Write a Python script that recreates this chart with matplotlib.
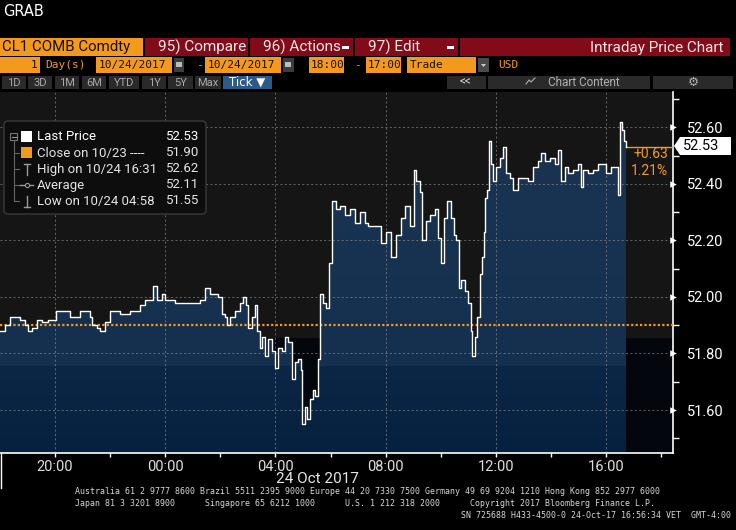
import pandas as pd
import matplotlib
matplotlib.use("Agg")
import matplotlib.pyplot as plt
import matplotlib.dates as mdates
from matplotlib.patches import Rectangle, FancyBboxPatch, Polygon
from matplotlib.colors import LinearSegmentedColormap
from matplotlib.ticker import FixedLocator
import numpy as np

# ---- data (CL1 tick data, 23-24 Oct 2017) ----
times = ["18:00", "18:11", "18:22", "18:33", "18:44", "18:54", "19:01", "19:10", "19:21", "19:31",
         "19:45", "19:55", "20:02", "20:11", "20:22", "20:32", "20:43", "20:54", "21:05", "21:16",
         "21:20", "21:31", "21:38", "21:49", "22:00", "22:10", "22:21", "22:32", "22:43", "22:54",
         "23:05", "23:16", "23:27", "23:33", "23:42", "23:53", "23:59", "00:10", "00:21", "00:32",
         "00:43", "00:54", "01:05", "01:16", "01:27", "01:37", "01:48", "01:55", "02:03", "02:10",
         "02:14", "02:21", "02:32", "02:43", "02:49", "02:56", "03:00", "03:09", "03:15", "03:20",
         "03:26", "03:31", "03:37", "03:44", "03:52", "03:59", "04:05", "04:14", "04:21", "04:27",
         "04:36", "04:43", "04:49", "04:56", "04:58", "05:04", "05:09", "05:15", "05:22", "05:26",
         "05:33", "05:37", "05:44", "05:50", "05:57", "06:03", "06:12", "06:21", "06:31", "06:42",
         "06:53", "07:04", "07:15", "07:21", "07:37", "07:50", "08:01", "08:12", "08:22", "08:33",
         "08:42", "08:53", "09:02", "09:06", "09:15", "09:19", "09:28", "09:37", "09:47", "09:54",
         "10:01", "10:07", "10:14", "10:22", "10:29", "10:33", "10:40", "10:44", "10:53", "10:59",
         "11:06", "11:08", "11:15", "11:19", "11:25", "11:30", "11:34", "11:36", "11:41", "11:45",
         "11:49", "11:54", "12:00", "12:09", "12:16", "12:22", "12:31", "12:37", "12:48", "12:59",
         "13:10", "13:21", "13:32", "13:38", "13:47", "13:58", "14:09", "14:15", "14:22", "14:31",
         "14:37", "14:48", "14:59", "15:05", "15:10", "15:21", "15:32", "15:42", "15:53", "16:00",
         "16:11", "16:22", "16:26", "16:30", "16:31", "16:35", "16:39", "16:44"]
prices = [51.88, 51.90, 51.93, 51.93, 51.92, 51.90, 51.88, 51.89, 51.92, 51.91,
          51.92, 51.92, 51.95, 51.95, 51.95, 51.93, 51.93, 51.95, 51.95, 51.93,
          51.90, 51.89, 51.88, 51.91, 51.95, 51.95, 51.94, 51.94, 51.95, 51.95,
          51.97, 51.99, 51.99, 52.04, 51.99, 52.01, 51.99, 51.99, 51.98, 51.98,
          51.98, 51.98, 51.98, 51.99, 52.03, 52.01, 52.01, 52.00, 51.94, 51.93,
          51.90, 51.93, 51.95, 51.98, 52.00, 51.97, 51.89, 51.93, 51.97, 51.88,
          51.82, 51.86, 51.79, 51.85, 51.81, 51.75, 51.82, 51.81, 51.86, 51.84,
          51.71, 51.77, 51.78, 51.74, 51.55, 51.61, 51.57, 51.64, 51.67, 51.65,
          51.78, 52.01, 51.98, 51.96, 52.12, 52.34, 52.31, 52.32, 52.29, 52.31,
          52.26, 52.30, 52.26, 52.25, 52.25, 52.19, 52.23, 52.14, 52.22, 52.28,
          52.32, 52.25, 52.45, 52.41, 52.37, 52.20, 52.27, 52.29, 52.31, 52.21,
          52.12, 52.28, 52.34, 52.28, 52.22, 52.20, 52.03, 52.06, 52.02, 51.98,
          51.88, 51.79, 51.86, 51.93, 52.08, 52.14, 52.23, 52.35, 52.38, 52.55,
          52.47, 52.41, 52.46, 52.49, 52.53, 52.44, 52.42, 52.38, 52.42, 52.42,
          52.41, 52.46, 52.48, 52.51, 52.48, 52.49, 52.47, 52.52, 52.41, 52.46,
          52.44, 52.45, 52.47, 52.39, 52.45, 52.44, 52.45, 52.47, 52.47, 52.44,
          52.46, 52.46, 52.36, 52.53, 52.62, 52.59, 52.55, 52.53]

prev_close = 51.90
last_price = 52.53
legend_rows = ["Last Price", "Close on 10/23 ----", "High on 10/24 16:31", "Average", "Low on 10/24 04:58"]
legend_vals = ["52.53", "51.90", "52.62", "52.11", "51.55"]
change_txt = ["+0.63", "1.21%"]
y_ticks = [51.60, 51.80, 52.00, 52.20, 52.40, 52.60]
y_minor = [51.50, 51.70, 51.90, 52.10, 52.30, 52.50, 52.70]

footer = ["Australia 61 2 9777 8600 Brazil 5511 2395 9000 Europe 44 20 7330 7500 Germany 49 69 9204 1210 Hong Kong 852 2977 6000",
          "Japan 81 3 3201 8900      Singapore 65 6212 1000      U.S. 1 212 318 2000      Copyright 2017 Bloomberg Finance L.P.",
          "SN 725688 H433-4500-0 24-Oct-17 16:56:34 VET  GMT-4:00"]

ts = pd.to_datetime([("2017-10-23 " if int(t[:2]) >= 18 else "2017-10-24 ") + t for t in times])
x = mdates.date2num(ts)

plt.rcParams['font.family'] = ['Roboto', 'DejaVu Sans']
ORANGE = '#f39a1e'
RED = '#820b19'

W, H = 736, 530
fig = plt.figure(figsize=(W / 100, H / 100), dpi=100, facecolor='black')

# ---- screen chrome in pixel coordinates ----
ui = fig.add_axes([0, 0, 1, 1], zorder=0)
ui.set_xlim(0, W)
ui.set_ylim(H, 0)
ui.axis('off')
ui.add_patch(Rectangle((0, 0), W, H, facecolor='black', edgecolor='none'))


def box(a, x0, y0, w, h, c):
    a.add_patch(Rectangle((x0, y0), w, h, facecolor=c, edgecolor='none'))


def txt(a, x0, y0, s, c='white', size=10, ha='left', **kw):
    a.text(x0, y0, s, color=c, fontsize=size, ha=ha, va='center', **kw)


txt(ui, 3, 11, "GRAB", size=10.5, family='DejaVu Sans')

# row 1
box(ui, 0, 38, 143, 18, ORANGE)
txt(ui, 2, 47.5, "CL1 COMB Comdty", c='#1a0e00', size=10.8)
for x0, w, s in [(145, 103, "95) Compare"), (250, 103, "96) Actions"), (355, 103, "97) Edit")]:
    box(ui, x0, 38, w, 18, RED)
    txt(ui, x0 + 13, 47.5, s, c='#f2e6e6', size=11)
box(ui, 342, 46, 7, 3, 'white')
box(ui, 447, 46, 7, 3, 'white')
box(ui, 460, 38, 270, 18, RED)
txt(ui, 723, 48, "Intraday Price Chart", c='#f2e6e6', size=11, ha='right')

# row 2
mono = 'DejaVu Sans Mono'
fs2 = 8
box(ui, 0, 57, 40, 16, ORANGE)
txt(ui, 37, 65, "1", c='#1a0e00', size=fs2, ha='right', family=mono)
txt(ui, 45, 65, "Day(s)", c=ORANGE, size=fs2, family=mono)
box(ui, 96, 57, 76, 16, ORANGE)
txt(ui, 99, 65, "10/24/2017", c='#1a0e00', size=fs2, family=mono)
box(ui, 174, 58, 10, 14, '#3c3c3c')
box(ui, 176, 62, 6, 5, '#bbbbbb')
txt(ui, 196, 65, "-", c=ORANGE, size=fs2, family=mono)
box(ui, 205, 57, 76, 16, ORANGE)
txt(ui, 208, 65, "10/24/2017", c='#1a0e00', size=fs2, family=mono)
box(ui, 283, 58, 11, 14, '#3c3c3c')
box(ui, 285, 62, 6, 5, '#bbbbbb')
box(ui, 309, 57, 35, 16, ORANGE)
txt(ui, 311, 65, "18:00", c='#1a0e00', size=fs2, family=mono)
txt(ui, 354, 65, "-", c=ORANGE, size=fs2, family=mono)
box(ui, 366, 57, 35, 16, ORANGE)
txt(ui, 368, 65, "17:00", c='#1a0e00', size=fs2, family=mono)
box(ui, 407, 57, 69, 16, ORANGE)
txt(ui, 410, 65, "Trade", c='#1a0e00', size=fs2, family=mono)
box(ui, 478, 58, 11, 14, '#4a4a4a')
ui.add_patch(Polygon([[481, 64], [486, 64], [483.5, 67]], facecolor='#cccccc'))
txt(ui, 498, 65, "USD", c=ORANGE, size=fs2, family=mono)

# row 3
for x0, w, s in [(2, 24, "1D"), (28, 24, "3D"), (55, 24, "1M"), (82, 24, "6M"), (109, 30, "YTD"),
                 (142, 24, "1Y"), (168, 25, "5Y"), (195, 26, "Max")]:
    box(ui, x0, 76, w, 13, '#2a2a2a')
    txt(ui, x0 + w / 2, 82.5, s, c='#a8a8a8', size=8, ha='center')
box(ui, 223, 76, 49, 13, '#2c5a8a')
txt(ui, 247, 82.5, "Tick \u25bc", c='white', size=8.5, ha='center', family='DejaVu Sans')
box(ui, 447, 76, 39, 13, '#2a2a2a')
txt(ui, 466, 82, "<<", c='#cfcfcf', size=8.5, ha='center')
box(ui, 488, 76, 162, 13, '#2a2a2a')
txt(ui, 584, 82.5, "Chart Content", c='#b0b0b0', size=8.5, ha='center')
ui.plot([526, 529, 531, 535], [84, 80, 82, 78], color='#b0b0b0', lw=0.8)
box(ui, 653, 76, 80, 13, '#2a2a2a')
txt(ui, 693, 82.5, "\u2699", c='#b0b0b0', size=9, ha='center', family='DejaVu Sans')

# bottom: date and footer
ui.plot([0.5, 0.5], [453, 488], color='white', lw=1)
txt(ui, 317, 479, "24 Oct 2017", c='#e6e6e6', size=11, ha='center')
for i, line in enumerate(footer[:2]):
    txt(ui, 75, 491 + 12.5 * i, line, c='#d8d8d8', size=5.98, family=mono)
txt(ui, 731, 516, footer[2], c='#d8d8d8', size=5.98, ha='right', family=mono)

# ---- price chart ----
ax = fig.add_axes([0, 1 - 453 / H, 673 / W, (453 - 92) / H], zorder=1)
x_lo = mdates.date2num(pd.Timestamp("2017-10-23 18:00"))
x_hi = mdates.date2num(pd.Timestamp("2017-10-24 18:26"))
y_lo, y_hi = 51.448, 52.725
ax.set_xlim(x_lo, x_hi)
ax.set_ylim(y_lo, y_hi)
ax.set_facecolor('#151515')
ax.axhspan(y_lo, 51.855, color='#03060c', zorder=0, lw=0)

# blue gradient area under the price, with the darker band at the bottom
cmap = LinearSegmentedColormap.from_list('bbg', [
    (0.0, '#06203f'), (0.238, '#0c2647'), (0.2381, '#15304f'), (1.0, '#1b3453')])
grad = np.linspace(0, 1, 400).reshape(-1, 1)
im = ax.imshow(grad, extent=[x_lo, x_hi, y_lo, y_hi], origin='lower', aspect='auto',
               cmap=cmap, zorder=1, interpolation='nearest')
area = ax.fill_between(x, prices, y_lo, facecolor='none', lw=0, step='post')
im.set_clip_path(area.get_paths()[0], transform=ax.transData)

for yt in y_ticks:
    ax.axhline(yt, color='#8a8a8a', lw=0.7, dashes=(2, 2.5), alpha=0.7, zorder=2)
hours = mdates.date2num(pd.date_range("2017-10-23 20:00", "2017-10-24 16:00", freq="4h"))
for xv in hours:
    ax.axvline(xv, color='#8a8a8a', lw=0.7, dashes=(2, 2.5), alpha=0.7, zorder=2)

ax.axhline(prev_close, color=ORANGE, lw=1.6, dashes=(1, 1), zorder=3)
ax.plot([x[-1], x_hi], [last_price, last_price], color=ORANGE, lw=1, zorder=3)
ax.plot(x, prices, color='white', lw=1, zorder=4, drawstyle='steps-post')

ax.set_xticks(hours)
ax.xaxis.set_major_formatter(mdates.DateFormatter('%H:%M'))
ax.xaxis.set_minor_locator(FixedLocator(hours + 2 / 24))
ax.tick_params(axis='x', which='both', colors='white', length=3, width=1, direction='out',
               labelcolor='#dedede', labelsize=10.5, pad=2)

ax.yaxis.tick_right()
ax.set_yticks(y_ticks)
ax.set_yticklabels([f"{v:.2f}" for v in y_ticks])
ax.yaxis.set_minor_locator(FixedLocator(y_minor))
ax.tick_params(axis='y', which='major', colors='white', length=0, pad=10, labelsize=10.5)
ax.tick_params(axis='y', which='minor', colors='white', length=4, width=1, direction='out')
ax.scatter([1.0] * len(y_ticks), y_ticks, marker='>', s=22, color='white', clip_on=False, zorder=5,
           transform=ax.get_yaxis_transform(), linewidths=0)

for side in ['top', 'left']:
    ax.spines[side].set_visible(False)
for side in ['bottom', 'right']:
    ax.spines[side].set_color('white')
    ax.spines[side].set_linewidth(1.2)

# ---- overlays: legend box and last-price tag ----
top = fig.add_axes([0, 0, 1, 1], zorder=2)
top.set_xlim(0, W)
top.set_ylim(H, 0)
top.axis('off')
top.patch.set_visible(False)

top.add_patch(FancyBboxPatch((4, 121), 202, 93, boxstyle="round,pad=0,rounding_size=4",
                             facecolor='#0d0d0d', edgecolor='#3a3a3a', lw=1))
row_y = [137, 153, 169, 185, 201]
top.add_patch(Rectangle((10, 133), 7, 7, facecolor='none', edgecolor='#777777', lw=0.8))
top.plot([11.5, 15.5], [136.5, 136.5], color='#999999', lw=0.8)
top.plot([13.5, 13.5], [140, 201], color='#666666', lw=0.8)
for yy in row_y[1:]:
    top.plot([13.5, 19], [yy, yy], color='#666666', lw=0.8)
box(top, 21, 131, 11, 11, 'white')
box(top, 21, 147, 11, 11, ORANGE)
top.plot([26.5, 26.5], [164, 175], color='#9a9a9a', lw=1)
top.plot([23.5, 29.5], [164, 164], color='#9a9a9a', lw=1)
top.plot([20, 33], [185, 185], color='#9a9a9a', lw=1)
top.plot([26.5], [185], marker='o', ms=3, mfc='#0d0d0d', mec='#9a9a9a', mew=0.8)
top.plot([26.5, 26.5], [196, 207], color='#9a9a9a', lw=1)
top.plot([23.5, 29.5], [207, 207], color='#9a9a9a', lw=1)
for i, (lab, val) in enumerate(zip(legend_rows, legend_vals)):
    col = 'white' if i == 0 else '#e4e4e4'
    txt(top, 37, row_y[i], lab, c=col, size=9.5)
    txt(top, 199, row_y[i], val, c=col, size=9.5, ha='right')

top.add_patch(Polygon([[674, 146], [680, 137], [731, 137], [731, 155], [680, 155]],
                      facecolor='white', edgecolor='none'))
txt(top, 683, 146.5, f"{last_price:.2f}", c='black', size=10.5)
txt(top, 668, 154, change_txt[0], c=ORANGE, size=10, ha='right')
txt(top, 668, 171, change_txt[1], c=ORANGE, size=10, ha='right')

fig.savefig("out.png", dpi=100, facecolor='black')
